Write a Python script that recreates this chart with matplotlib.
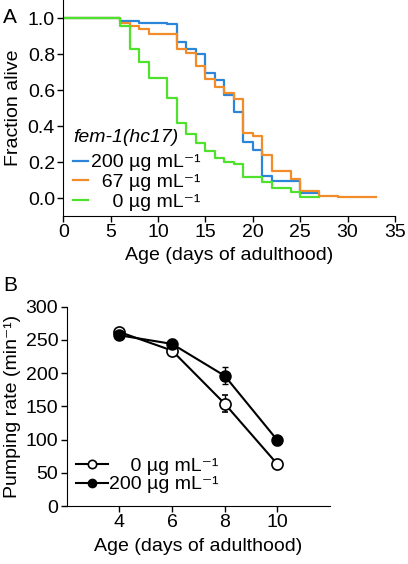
import numpy as np
import matplotlib
matplotlib.use("Agg")
import matplotlib.pyplot as plt

plt.rcParams['font.family'] = ['Liberation Sans', 'DejaVu Sans']
plt.rcParams['font.size'] = 14

# Panel A: survival (Kaplan-Meier steps)
days_200 = [0, 6, 8, 11, 12, 13, 14, 15, 16, 17, 18, 19, 20, 21, 22, 25, 27]
surv_200 = [1.0, 0.984, 0.974, 0.964, 0.868, 0.83, 0.80, 0.696, 0.658, 0.572, 0.476, 0.31, 0.268, 0.123, 0.097, 0.03, 0.03]

days_67 = [0, 6, 7, 8, 9, 12, 13, 14, 15, 16, 17, 18, 19, 20, 21, 22, 24, 25, 27, 29, 33]
surv_67 = [1.0, 0.975, 0.957, 0.941, 0.913, 0.83, 0.807, 0.733, 0.663, 0.615, 0.581, 0.548, 0.363, 0.346, 0.239, 0.149, 0.103, 0.037, 0.011, 0.005, 0.005]

days_0 = [0, 6, 7, 8, 9, 11, 12, 13, 14, 15, 16, 17, 18, 19, 21, 22, 24, 25, 27]
surv_0 = [1.0, 0.957, 0.826, 0.757, 0.668, 0.555, 0.415, 0.355, 0.308, 0.26, 0.22, 0.199, 0.19, 0.118, 0.088, 0.054, 0.034, 0.006, 0.006]

# Panel B: pumping rate
ages = [4, 6, 8, 10]
pump_0 = [262, 234, 154, 63]
pump_0_err = [4, 7, 13, 4]
pump_200 = [257, 244, 196, 99]
pump_200_err = [4, 8, 13, 7]

fig = plt.figure(figsize=(4.08, 5.64), dpi=100)

ax = fig.add_axes([0.155, 0.617, 0.813, 0.383])
ax.step(days_200, surv_200, where='post', color='#2b86d9', lw=1.6, label='200 µg mL⁻¹')
ax.step(days_67, surv_67, where='post', color='#f28c28', lw=1.6, label='  67 µg mL⁻¹')
ax.step(days_0, surv_0, where='post', color='#4ee22c', lw=1.6, label='    0 µg mL⁻¹')
ax.set_xlim(0, 35)
ax.set_ylim(-0.1, 1.1)
ax.set_xticks(np.arange(0, 36, 5))
ax.set_yticks(np.arange(0, 1.01, 0.2))
ax.set_yticklabels(['0.0', '0.2', '0.4', '0.6', '0.8', '1.0'])
ax.set_xlabel('Age (days of adulthood)', labelpad=4)
ax.set_ylabel('Fraction alive', labelpad=4)
for s in ['top', 'right']:
    ax.spines[s].set_visible(False)
ax.tick_params(direction='out', length=4, width=1, pad=2)
leg = ax.legend(loc='lower left', bbox_to_anchor=(0.0, -0.02), frameon=False,
                title='fem-1(hc17)', alignment='left', handlelength=0.75,
                handletextpad=0.2, labelspacing=0.1, borderpad=0.2,
                borderaxespad=0.3)
leg.get_title().set_fontstyle('italic')
leg.get_title().set_fontsize(14)
# a bit more room between title and entries, as in the original
leg._legend_box.sep = 5.5

# Panel B
bx = fig.add_axes([0.1634, 0.1028, 0.6456, 0.3534])
e0 = bx.errorbar(ages, pump_0, yerr=pump_0_err, color='black', lw=1.5, marker='o', ms=8,
                 mfc='white', mec='black', mew=1.2, capsize=2.5, elinewidth=1, zorder=3)
e200 = bx.errorbar(ages, pump_200, yerr=pump_200_err, color='black', lw=1.5, marker='o', ms=8,
                   mfc='black', mec='black', capsize=2.5, elinewidth=1, zorder=3)
bx.set_xlim(2, 12)
bx.set_ylim(0, 300)
bx.set_xticks(ages)
bx.set_yticks(np.arange(0, 301, 50))
bx.set_xlabel('Age (days of adulthood)', labelpad=5)
bx.set_ylabel('Pumping rate (min⁻¹)')
bx.yaxis.set_label_coords(-0.175, 0.5)
for s in ['top', 'right']:
    bx.spines[s].set_visible(False)
bx.tick_params(direction='out', length=4, width=1, pad=2)
bleg = bx.legend([e0.lines[0], e200.lines[0]], ['    0 µg mL⁻¹', '200 µg mL⁻¹'],
                 loc='lower left', bbox_to_anchor=(0.0, 0.015), frameon=False,
                 handlelength=1.6, handletextpad=0.1, labelspacing=0.05,
                 borderpad=0.2, borderaxespad=0.3, markerscale=0.75)

fig.text(0.008, 0.985, 'A', fontsize=15, va='top')
fig.text(0.008, 0.51, 'B', fontsize=15, va='top')

fig.savefig('out.png', dpi=100)
